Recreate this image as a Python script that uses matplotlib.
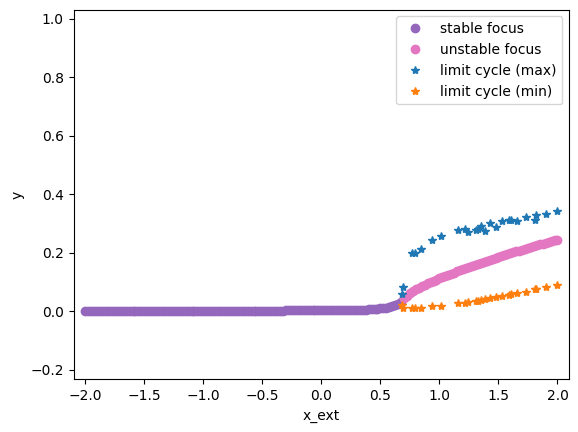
import numpy as np
import matplotlib
matplotlib.use("Agg")
import matplotlib.pyplot as plt

# stable focus branch (x step 0.025 from -2.0 to 0.675)
stable_x = np.round(np.arange(-2.0, 0.676, 0.025), 3)
stable_y = ([0.0] * 68 + [0.004] * 27 +
            [0.006, 0.007, 0.007, 0.008, 0.009, 0.010, 0.011,
             0.012, 0.014, 0.017, 0.021, 0.026, 0.033])

# unstable focus branch (x step 0.025 from 0.70 to 2.0)
unstable_x = np.round(np.arange(0.70, 2.001, 0.025), 3)
unstable_y = [0.045, 0.054, 0.062, 0.069, 0.075, 0.081, 0.086, 0.091, 0.096,
              0.101, 0.105, 0.109, 0.113, 0.117, 0.121, 0.125, 0.129, 0.133,
              0.137, 0.141, 0.144, 0.148, 0.151, 0.155, 0.158, 0.162, 0.165,
              0.169, 0.172, 0.176, 0.179, 0.182, 0.185, 0.189, 0.192, 0.196,
              0.199, 0.202, 0.205, 0.208, 0.211, 0.214, 0.217, 0.220, 0.223,
              0.226, 0.229, 0.232, 0.235, 0.238, 0.240, 0.243, 0.245]

# limit cycles
cycle_x = [0.68, 0.69, 0.77, 0.79, 0.84, 0.94, 1.01, 1.16, 1.22, 1.24, 1.31,
           1.33, 1.35, 1.39, 1.43, 1.48, 1.53, 1.59, 1.61, 1.66, 1.73, 1.81,
           1.82, 1.90, 2.00]
cycle_max = [0.059, 0.085, 0.201, 0.201, 0.214, 0.244, 0.258, 0.278, 0.281,
             0.272, 0.277, 0.283, 0.291, 0.275, 0.301, 0.288, 0.309, 0.311,
             0.313, 0.310, 0.324, 0.313, 0.330, 0.332, 0.344]
cycle_min = [0.021, 0.013, 0.010, 0.010, 0.010, 0.018, 0.018, 0.030, 0.029,
             0.032, 0.036, 0.037, 0.039, 0.043, 0.045, 0.049, 0.054, 0.056,
             0.058, 0.062, 0.067, 0.075, 0.076, 0.083, 0.091]

fig = plt.figure(figsize=(5.78, 4.32), dpi=100)
ax = fig.add_axes([73.5 / 578, 1 - 379.3 / 432, 495.8 / 578, 369.8 / 432])

ax.plot(stable_x, stable_y, 'o', color='tab:purple', label='stable focus')
ax.plot(unstable_x, unstable_y, 'o', color='tab:pink', label='unstable focus')
ax.plot(cycle_x, cycle_max, '*', color='tab:blue', label='limit cycle (max)')
ax.plot(cycle_x, cycle_min, '*', color='tab:orange', label='limit cycle (min)')

ax.set_xlim(-2.1, 2.1)
ax.set_ylim(-0.232, 1.032)
ax.set_xlabel('x_ext')
ax.set_ylabel('y')
ax.legend(loc='upper right')

fig.savefig('out.png', dpi=100)
